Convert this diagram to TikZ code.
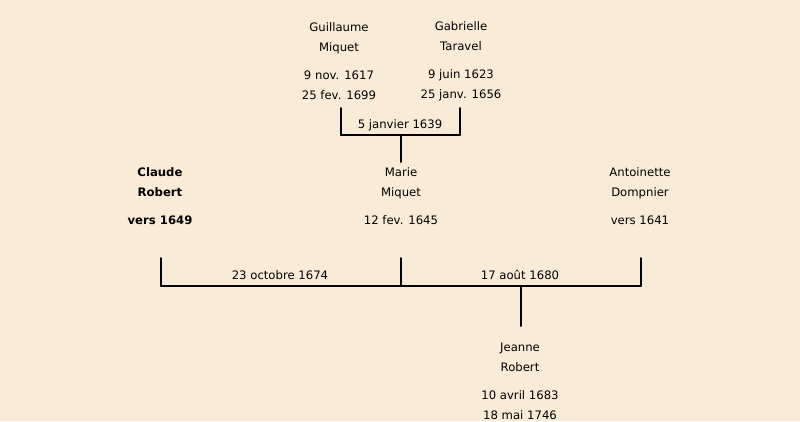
\documentclass[tikz,border=0pt]{standalone}
\usepackage{fontspec, tkz-euclide}
\setmainfont{DejaVu Sans}
\definecolor{fond}{RGB}{250,235,215}
\tikzset{>=stealth,
  personne/.style={align=center, font=\fontsize{8.3}{14.2}\selectfont, inner sep=0pt},
  noces/.style={font=\fontsize{8.3}{10}\selectfont, inner sep=0pt}}

\begin{document}
\begin{tikzpicture}
    \fill[fond] (0,0) rectangle (20,-10.525);
    \tkzDefPoints{8.525/-2.7/A, 8.525/-3.375/B, 11.5/-3.375/C, 11.5/-2.7/D,
                  10.025/-3.375/E, 10.025/-4.05/F}
    \tkzDefPoints{4.025/-6.45/G, 4.025/-7.15/H, 16.025/-7.15/I, 16.025/-6.45/J,
                  10.025/-6.45/K, 10.025/-7.15/L, 13.025/-7.15/M, 13.025/-8.15/N}
    \tkzDrawSegments[line width=1.4pt](A,B B,C C,D E,F)
    \tkzDrawSegments[line width=1.4pt](G,H H,I I,J K,L M,N)
   %\tkzLabelPoints(A,B,C,D,E,F,G,H,I,J,K,L,M,N)
    \node[personne] (guillaume) at (8.475,-1.525) {Guillaume\\Miquet\\[2mm]9 nov. 1617\\25 fev. 1699};
    \node[personne] (gabrielle) at (11.525,-1.525) {Gabrielle\\Taravel\\[2mm]9 juin 1623\\25 janv. 1656};
    \node[personne, font=\fontsize{8.3}{14.2}\selectfont\bfseries] (claude) at (4,-4.9) {Claude\\Robert\\[2mm]vers 1649};
    \node[personne] (marie) at (10.025,-4.9) {Marie\\Miquet\\[2mm]12 fev. 1645};
    \node[personne] (antoinette) at (16,-4.9) {Antoinette\\Dompnier\\[2mm]vers 1641};
    \node[personne] (jeanne) at (13,-9.525) {Jeanne\\Robert\\[2mm]10 avril 1683\\18 mai 1746};
    \node[noces] (m1639) at (10,-3.125) {5 janvier 1639};
    \node[noces] (m1674) at (7,-6.875) {23 octobre 1674};
    \node[noces] (m1680) at (13,-6.875) {17 août 1680};
\end{tikzpicture}
\end{document}
